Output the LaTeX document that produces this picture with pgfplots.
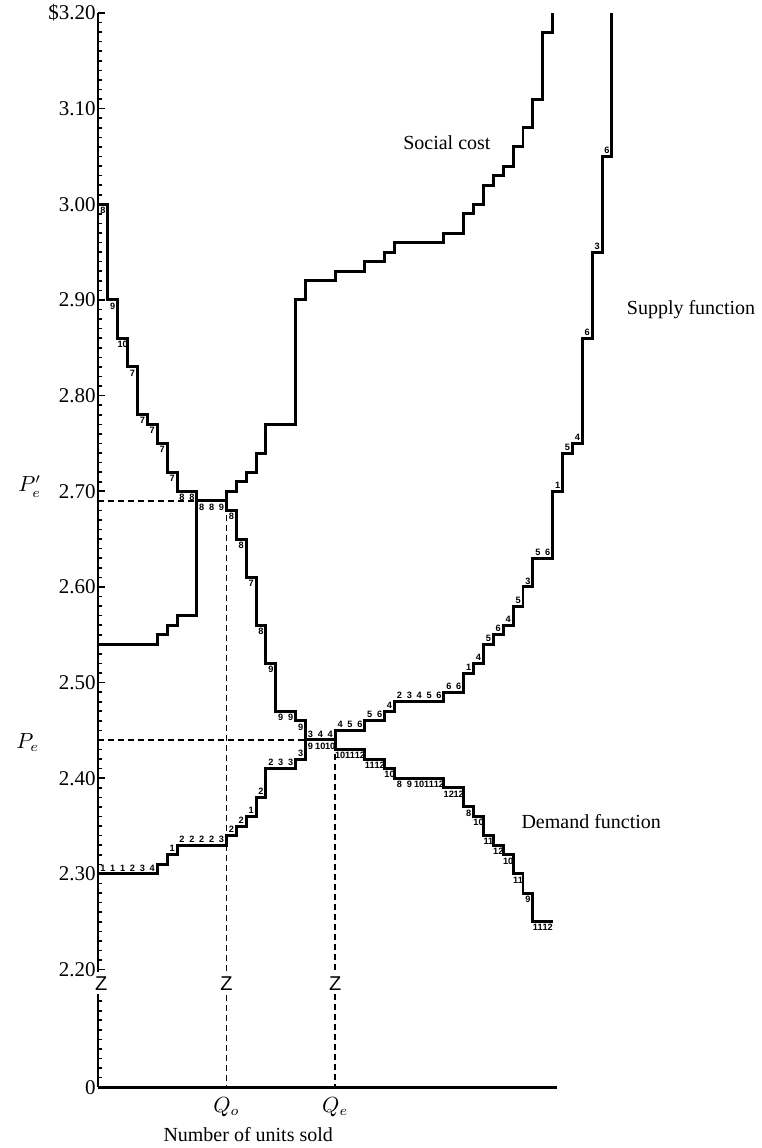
\documentclass[border=0pt]{standalone}
\usepackage{fontspec}
\setmainfont{Liberation Serif}
\setsansfont{Liberation Sans}
\usepackage{pgfplots}
\pgfplotsset{compat=1.18}
\usepackage{pgfplotstable}

\newcommand\labfont{\sffamily\bfseries\fontsize{4.6}{4.8}\selectfont}

% step functions: value holds from x to the next x
\pgfplotstableread{
x y
0 3.00
1 2.90
2 2.86
3 2.83
4 2.78
5 2.77
6 2.75
7 2.72
8 2.70
10 2.69
13 2.68
14 2.65
15 2.61
16 2.56
17 2.52
18 2.47
20 2.46
21 2.44
24 2.43
27 2.42
29 2.41
30 2.40
35 2.39
37 2.37
38 2.36
39 2.34
40 2.33
41 2.32
42 2.30
43 2.28
44 2.25
46 2.25
}\demand

\pgfplotstableread{
x y
0 2.30
6 2.31
7 2.32
8 2.33
13 2.34
14 2.35
15 2.36
16 2.38
17 2.41
20 2.42
21 2.44
24 2.45
27 2.46
29 2.47
30 2.48
35 2.49
37 2.51
38 2.52
39 2.54
40 2.55
41 2.56
42 2.58
43 2.60
44 2.63
46 2.70
47 2.74
48 2.75
49 2.86
50 2.95
51 3.05
52 3.20
}\supply

\pgfplotstableread{
x y
0 2.54
6 2.55
7 2.56
8 2.57
10 2.69
13 2.70
14 2.71
15 2.72
16 2.74
17 2.77
20 2.90
21 2.92
24 2.93
27 2.94
29 2.95
30 2.96
35 2.97
37 2.99
38 3.00
39 3.02
40 3.03
41 3.04
42 3.06
43 3.08
44 3.11
45 3.18
46 3.20
}\social

% buyer numbers under the demand steps
\pgfplotstableread{
x y lab
0.5 3.00 8
1.5 2.90 9
2.5 2.86 10
3.5 2.83 7
4.5 2.78 7
5.5 2.77 7
6.5 2.75 7
7.5 2.72 7
8.5 2.70 8
9.5 2.70 8
10.5 2.69 8
11.5 2.69 8
12.5 2.69 9
13.5 2.68 8
14.5 2.65 8
15.5 2.61 7
16.5 2.56 8
17.5 2.52 9
18.5 2.47 9
19.5 2.47 9
20.5 2.46 9
21.5 2.44 9
22.5 2.44 10
23.5 2.44 10
24.5 2.43 10
25.5 2.43 11
26.5 2.43 12
27.5 2.42 11
28.5 2.42 12
29.5 2.41 10
30.5 2.40 8
31.5 2.40 9
32.5 2.40 10
33.5 2.40 11
34.5 2.40 12
35.5 2.39 12
36.5 2.39 12
37.5 2.37 8
38.5 2.36 10
39.5 2.34 11
40.5 2.33 12
41.5 2.32 10
42.5 2.30 11
43.5 2.28 9
44.5 2.25 11
45.5 2.25 12
}\demandlab

% seller numbers above the supply steps
\pgfplotstableread{
x y lab
0.5 2.30 1
1.5 2.30 1
2.5 2.30 1
3.5 2.30 2
4.5 2.30 3
5.5 2.30 4
7.5 2.32 1
8.5 2.33 2
9.5 2.33 2
10.5 2.33 2
11.5 2.33 2
12.5 2.33 3
13.5 2.34 2
14.5 2.35 2
15.5 2.36 1
16.5 2.38 2
17.5 2.41 2
18.5 2.41 3
19.5 2.41 3
20.5 2.42 3
21.5 2.44 3
22.5 2.44 4
23.5 2.44 4
24.5 2.45 4
25.5 2.45 5
26.5 2.45 6
27.5 2.46 5
28.5 2.46 6
29.5 2.47 4
30.5 2.48 2
31.5 2.48 3
32.5 2.48 4
33.5 2.48 5
34.5 2.48 6
35.5 2.49 6
36.5 2.49 6
37.5 2.51 1
38.5 2.52 4
39.5 2.54 5
40.5 2.55 6
41.5 2.56 4
42.5 2.58 5
43.5 2.60 3
44.5 2.63 5
45.5 2.63 6
46.5 2.70 1
47.5 2.74 5
48.5 2.75 4
49.5 2.86 6
50.5 2.95 3
51.5 3.05 6
}\supplylab

\begin{document}
\begin{tikzpicture}
\begin{axis}[
  scale only axis,
  width=229.5pt, height=537.5pt,
  xmin=0, xmax=46.4,
  ymin=2.077, ymax=3.20,
  clip=false,
  axis x line=bottom, axis y line=left,
  axis line style={-, line width=1.3pt},
  tick align=inside,
  tick style={black, line width=0.8pt},
  major tick length=3.5pt, minor tick length=2pt,
  xtick=\empty,
  minor xtick={0,1,...,46},
  ytick={2.077,2.2,2.3,2.4,2.5,2.6,2.7,2.8,2.9,3.0,3.1,3.2},
  yticklabels={0,2.20,2.30,2.40,2.50,2.60,2.70,2.80,2.90,3.00,3.10,\$3.20},
  minor ytick={2.21,2.22,...,3.195},
  extra y ticks={2.087,2.097,...,2.178},
  extra y tick labels={},
  extra y tick style={major tick length=2pt},
  yticklabel style={font=\fontsize{10.5}{12}\selectfont, inner sep=1pt},
]
% dashed guide lines
\addplot[black, line width=0.7pt, dash pattern=on 3pt off 2pt] coordinates {(0,2.69) (10,2.69)};
\addplot[black, line width=0.7pt, dash pattern=on 3pt off 2pt] coordinates {(13,2.675) (13,2.077)};
\addplot[black, line width=0.7pt, dash pattern=on 3pt off 2pt] coordinates {(0,2.44) (21,2.44)};
\addplot[black, line width=0.7pt, dash pattern=on 3pt off 2pt] coordinates {(24,2.425) (24,2.077)};

% the three step curves
\addplot[black, line width=1.5pt, const plot, line join=miter] table {\social};
\addplot[black, line width=1.5pt, const plot, line join=miter] table {\supply};
\addplot[black, line width=1.5pt, const plot, line join=miter] table {\demand};

% step numbers
\addplot[only marks, mark=none, nodes near coords, point meta=explicit symbolic,
  every node near coord/.append style={anchor=north, font=\labfont, inner sep=0.3pt, yshift=-0.9pt}]
  table[meta=lab] {\demandlab};
\addplot[only marks, mark=none, nodes near coords, point meta=explicit symbolic,
  every node near coord/.append style={anchor=south, font=\labfont, inner sep=0.3pt, yshift=0.9pt}]
  table[meta=lab] {\supplylab};

% axis breaks
\foreach \q/\s in {0/1.6pt,13/0pt,24/0pt} {
  \edef\tmp{\noexpand\node[fill=white, inner sep=0pt, minimum height=11pt, xshift=\s,
    font=\noexpand\sffamily\noexpand\fontsize{10}{10}\noexpand\selectfont]
    at (axis cs:\q,2.1855) {Z};}\tmp
}

\node[font=\fontsize{10}{12}\selectfont] at (axis cs:35.3,3.064) {Social cost};
\node[font=\fontsize{10}{12}\selectfont] at (axis cs:60.0,2.89) {Supply function};
\node[font=\fontsize{10}{12}\selectfont] at (axis cs:49.9,2.355) {Demand function};
\node[font=\fontsize{10.5}{12}\selectfont] at (axis cs:-6.9,2.705) {$P'_e$};
\node[font=\fontsize{10.5}{12}\selectfont] at (axis cs:-7.1,2.437) {$P_e$};
\node[font=\fontsize{10.5}{12}\selectfont, anchor=north, inner sep=0pt] at (axis cs:13,2.077) [yshift=-5pt] {$Q_o$};
\node[font=\fontsize{10.5}{12}\selectfont, anchor=north, inner sep=0pt] at (axis cs:24,2.077) [yshift=-5pt] {$Q_e$};
\node[font=\fontsize{10}{12}\selectfont] at (axis cs:15.2,2.077) [yshift=-23.5pt] {Number of units sold};

\path (rel axis cs:-0.2135,-0.0558) rectangle (rel axis cs:1.4423,1.0121);
\end{axis}
\end{tikzpicture}
\end{document}
